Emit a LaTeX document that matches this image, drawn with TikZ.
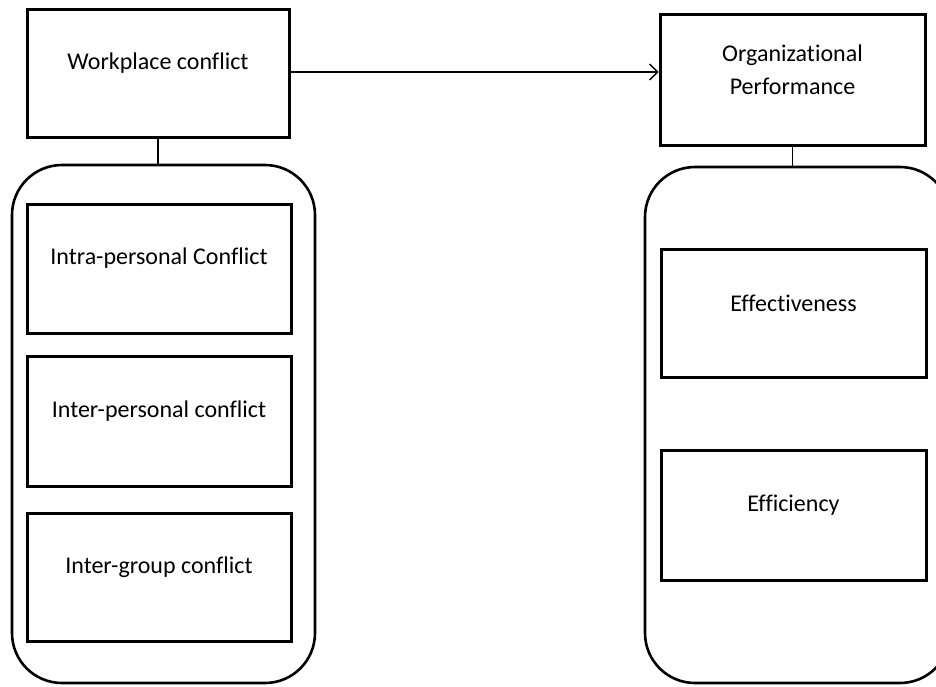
\documentclass[tikz,border=0pt]{standalone}
\usepackage{fontspec}
\setmainfont{Carlito}[Ligatures=CommonOff]
\usetikzlibrary{positioning,arrows.meta}

\tikzset{
  box/.style = {draw, line width=3pt, minimum width=264pt, minimum height=129pt,
                inner sep=0pt, font=\fontsize{24}{33}\selectfont},
  grp/.style = {draw, line width=2.6pt, rounded corners=50pt, inner sep=0pt},
  txt/.style = {label={[yshift=10pt, align=center, font=\fontsize{24}{33}\selectfont]center:#1}},
  link/.style = {line width=1.2pt},
}

\begin{document}
\begin{tikzpicture}[x=1pt, y=-1pt]
	\useasboundingbox (0,0) rectangle (936,686);

	% left side
	\node[box, minimum width=262pt, minimum height=128pt, txt={Workplace conflict}] (wc) at (158,73) {};
	\node[grp, minimum width=303pt, minimum height=518pt] (lgrp) at (163.5,424) {};
	\node[box, txt={Intra-personal Conflict}] (intra) at (159,268.5) {};
	\node[box, minimum height=130pt, below = 20pt of intra, txt={Inter-personal conflict}] (inter) {};
	\node[box, minimum height=128pt, below = 24pt of inter, txt={Inter-group conflict}] (group) {};

	% right side
	\node[box, minimum width=265pt, minimum height=131pt, txt={Organizational\\Performance}] (op) at (792.5,79.5) {};
	\node[grp, minimum width=305pt, minimum height=516pt] (rgrp) at (797.5,425) {};
	\node[box, minimum width=265pt, minimum height=128pt, txt={Effectiveness}] (eff) at (793.5,313) {};
	\node[box, minimum width=265pt, minimum height=130pt, below = 70pt of eff, txt={Efficiency}] (effi) {};

	%edges
	\draw[link] (wc.south) -- (wc.south |- lgrp.north);
	\draw[link] (op.south) -- (op.south |- rgrp.north);
	\draw[line width=1.3pt, -{Straight Barb[length=8pt, width=16pt]}] (wc.east |- 0,72) -- (op.west |- 0,72);
\end{tikzpicture}
\end{document}
